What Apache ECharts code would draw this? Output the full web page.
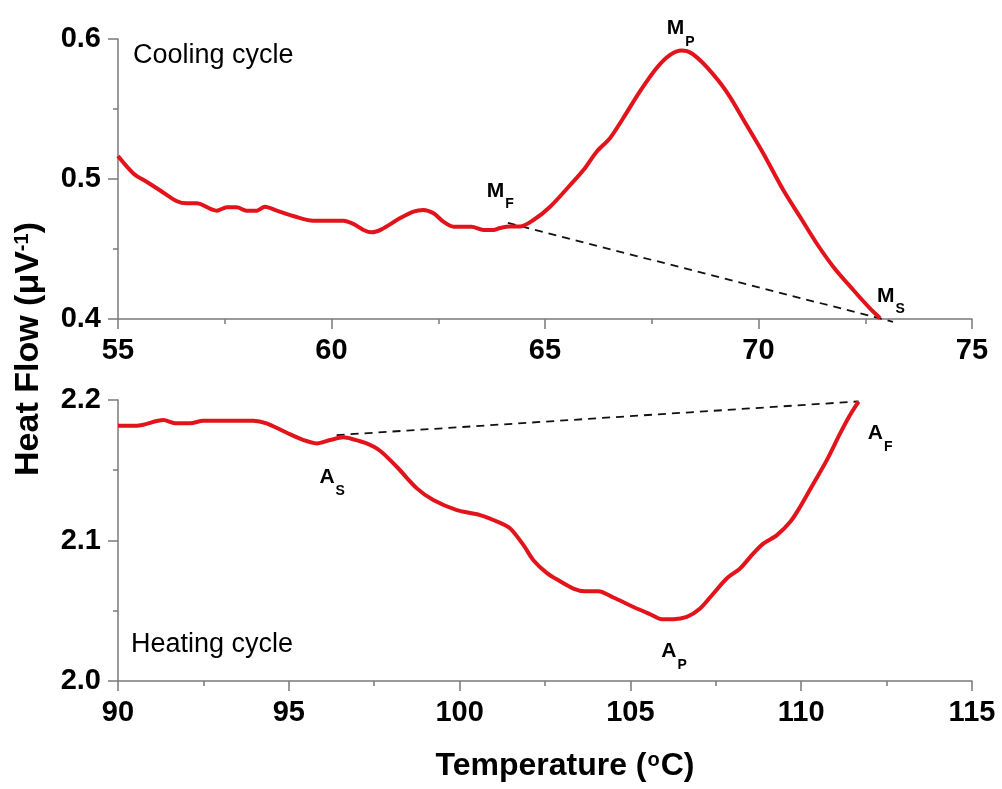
<!DOCTYPE html>
<html>
<head>
<meta charset="utf-8">
<script src="https://cdn.jsdelivr.net/npm/echarts@6/dist/echarts.min.js"></script>
<style>
html,body{margin:0;padding:0;background:#fff;}
#chart{width:1002px;height:789px;}
</style>
</head>
<body>
<div id="chart"></div>
<script>
// ---- Cooling cycle (top panel) ----
const coolingT = [55.0,55.36,55.67,55.98,56.37,56.61,56.84,57.31,57.55,57.78,58.01,58.25,58.44,58.72,59.1,59.57,60.28,60.51,60.75,60.94,61.17,61.6,61.92,62.15,62.39,62.62,62.86,63.28,63.56,63.79,63.95,64.18,64.41,64.73,65.12,65.59,65.9,66.21,66.52,66.83,67.22,67.61,67.93,68.2,68.43,68.78,69.25,69.72,70.11,70.58,70.97,71.36,71.75,72.22,72.61,72.85];
const coolingHF = [0.5164,0.504,0.498,0.492,0.4843,0.4826,0.4826,0.4774,0.4798,0.4798,0.4774,0.4774,0.4802,0.4774,0.4736,0.4702,0.4702,0.4679,0.4636,0.4619,0.464,0.4719,0.4767,0.4779,0.4755,0.4695,0.4659,0.4659,0.4636,0.4636,0.465,0.466,0.466,0.4707,0.4802,0.4957,0.5064,0.5195,0.5291,0.5434,0.5624,0.5791,0.5886,0.5917,0.5898,0.5802,0.5624,0.5386,0.5184,0.4921,0.4731,0.4541,0.4374,0.4207,0.4076,0.4005];
const coolingBaseT = [64.13, 73.15];
const coolingBaseHF = [0.4686, 0.398];

// ---- Heating cycle (bottom panel) ----
const heatingT = [90.0,90.55,91.33,91.67,92.11,92.5,93.96,94.35,94.94,95.43,95.82,96.21,96.6,96.89,97.28,97.67,98.16,98.75,99.23,99.92,100.6,101.19,101.48,101.87,102.16,102.55,102.94,103.33,103.67,104.06,104.5,105.09,105.58,105.92,106.26,106.65,107.04,107.43,107.82,108.21,108.6,108.9,109.29,109.68,109.97,110.36,110.75,111.14,111.43,111.68];
const heatingHF = [2.1817,2.1817,2.1857,2.1834,2.1834,2.1853,2.1853,2.1834,2.1767,2.1715,2.1691,2.1715,2.1734,2.172,2.1691,2.1639,2.1525,2.1371,2.1288,2.1216,2.1181,2.1125,2.1086,2.0967,2.086,2.077,2.071,2.0658,2.0639,2.0639,2.0594,2.0527,2.0475,2.044,2.044,2.0456,2.0516,2.0623,2.073,2.0801,2.0908,2.0979,2.1038,2.1133,2.124,2.1406,2.1572,2.1762,2.1893,2.1988];
const heatingBaseT = [96.4, 111.68];
const heatingBaseHF = [2.175, 2.199];

// ---- Axis settings ----
const coolingXTicks = [55, 75, 5];
const coolingYTicks = [0.4, 0.6, 0.1];
const heatingXTicks = [90, 115, 5];
const heatingYTicks = [2.0, 2.2, 0.1];

// ---- Annotations (anchor in data units) ----
const coolingLabelT = [63.95, 68.18, 73.10];
const coolingLabelHF = [0.4915, 0.6075, 0.4165];
const coolingLabelMain = ['M', 'M', 'M'];
const coolingLabelSub = ['F', 'P', 'S'];
const heatingLabelT = [96.27, 106.28, 112.31];
const heatingLabelHF = [2.1447, 2.0211, 2.1764];
const heatingLabelMain = ['A', 'A', 'A'];
const heatingLabelSub = ['S', 'P', 'F'];

const texts = {
  cooling: 'Cooling cycle',
  heating: 'Heating cycle',
  yTitle: 'Heat Flow (\u03bcV',
  yTitleSup: '-1',
  xTitle: 'Temperature (',
  xTitleSup: 'o',
  xTitleEnd: 'C)'
};

const FONT = '"Liberation Sans", Arial, Helvetica, sans-serif';
const RED = '#e3131b';
const AXIS = '#7a7a7a';

function zip(a, b) { return a.map((v, i) => [v, b[i]]); }

function xAxisDef(grid, t) {
  return {
    type: 'value', gridIndex: grid, min: t[0], max: t[1], interval: t[2],
    axisLine: { show: true, onZero: false, lineStyle: { color: AXIS, width: 1.5 } },
    axisTick: { show: true, inside: false, length: 10, lineStyle: { color: AXIS, width: 1.5 } },
    minorTick: { show: true, splitNumber: 2, length: 5, lineStyle: { color: AXIS, width: 1.5 } },
    splitLine: { show: false },
    axisLabel: { color: '#000', fontFamily: FONT, fontWeight: 'bold', fontSize: 29, margin: 17 }
  };
}
function yAxisDef(grid, t) {
  return {
    type: 'value', gridIndex: grid, min: t[0], max: t[1], interval: t[2],
    axisLine: { show: true, onZero: false, lineStyle: { color: AXIS, width: 1.5 } },
    axisTick: { show: true, inside: false, length: 10, lineStyle: { color: AXIS, width: 1.5 } },
    minorTick: { show: true, splitNumber: 2, length: 5, lineStyle: { color: AXIS, width: 1.5 } },
    splitLine: { show: false },
    axisLabel: { color: '#000', fontFamily: FONT, fontWeight: 'bold', fontSize: 29, margin: 17,
      formatter: v => v.toFixed(1) }
  };
}

const labelRich = {
  m: { fontFamily: FONT, fontWeight: 'bold', fontSize: 21, lineHeight: 21, verticalAlign: 'top', fill: '#000' },
  s: { fontFamily: FONT, fontWeight: 'bold', fontSize: 14, lineHeight: 14, verticalAlign: 'top', padding: [17, 0, 0, 1], fill: '#000' }
};

const chart = echarts.init(document.getElementById('chart'), null, { renderer: 'canvas' });

const staticGraphics = [
  { type: 'text', left: 133, top: 42, style: { text: texts.cooling, font: '27px ' + FONT, fill: '#000' } },
  { type: 'text', left: 131, top: 631, style: { text: texts.heating, font: '27px ' + FONT, fill: '#000' } },
  { type: 'text', x: 565, y: 768, style: {
      text: '{a|' + texts.xTitle + '}{b|' + texts.xTitleSup + '}{a|' + texts.xTitleEnd + '}',
      align: 'center', verticalAlign: 'middle',
      rich: {
        a: { fontFamily: FONT, fontWeight: 'bold', fontSize: 32, lineHeight: 36, verticalAlign: 'top', fill: '#000' },
        b: { fontFamily: FONT, fontWeight: 'bold', fontSize: 20, lineHeight: 6, verticalAlign: 'top', fill: '#000', padding: [0, 1, 0, 1] }
      } } },
  { type: 'text', x: 31, y: 349, rotation: Math.PI / 2, style: {
      text: '{a|' + texts.yTitle + '}{b|' + texts.yTitleSup + '}{a|)}',
      align: 'center', verticalAlign: 'middle',
      rich: {
        a: { fontFamily: FONT, fontWeight: 'bold', fontSize: 34, lineHeight: 38, verticalAlign: 'top', fill: '#000' },
        b: { fontFamily: FONT, fontWeight: 'bold', fontSize: 20, lineHeight: 8, verticalAlign: 'top', fill: '#000' }
      } } }
];

chart.setOption({
  backgroundColor: '#fff',
  animation: false,
  grid: [
    { left: 118, width: 854, top: 39, height: 280 },
    { left: 118, width: 854, top: 400, height: 281 }
  ],
  xAxis: [xAxisDef(0, coolingXTicks), xAxisDef(1, heatingXTicks)],
  yAxis: [yAxisDef(0, coolingYTicks), yAxisDef(1, heatingYTicks)],
  series: [
    { type: 'line', xAxisIndex: 0, yAxisIndex: 0, data: zip(coolingT, coolingHF), showSymbol: false,
      smooth: 0.3, lineStyle: { color: RED, width: 4 }, z: 3 },
    { type: 'line', xAxisIndex: 0, yAxisIndex: 0, data: zip(coolingBaseT, coolingBaseHF), showSymbol: false,
      clip: false, lineStyle: { color: '#111', width: 1.8, type: [8, 6] }, z: 2 },
    { type: 'line', xAxisIndex: 1, yAxisIndex: 1, data: zip(heatingT, heatingHF), showSymbol: false,
      smooth: 0.3, lineStyle: { color: RED, width: 4 }, z: 3 },
    { type: 'line', xAxisIndex: 1, yAxisIndex: 1, data: zip(heatingBaseT, heatingBaseHF), showSymbol: false,
      clip: false, lineStyle: { color: '#111', width: 1.8, type: [8, 6] }, z: 2 }
  ],
  graphic: staticGraphics
});

// Annotation labels placed through the chart's own coordinate conversion
function annot(gridIndex, T, HF, main, sub) {
  return T.map((t, i) => {
    const p = chart.convertToPixel({ gridIndex: gridIndex }, [t, HF[i]]);
    return {
      type: 'text', x: p[0], y: p[1], z: 10,
      style: {
        text: '{m|' + main[i] + '}{s|' + sub[i] + '}',
        align: 'center', verticalAlign: 'middle', rich: labelRich
      }
    };
  });
}
chart.setOption({
  graphic: staticGraphics.concat(
    annot(0, coolingLabelT, coolingLabelHF, coolingLabelMain, coolingLabelSub),
    annot(1, heatingLabelT, heatingLabelHF, heatingLabelMain, heatingLabelSub)
  )
});
</script>
</body>
</html>
